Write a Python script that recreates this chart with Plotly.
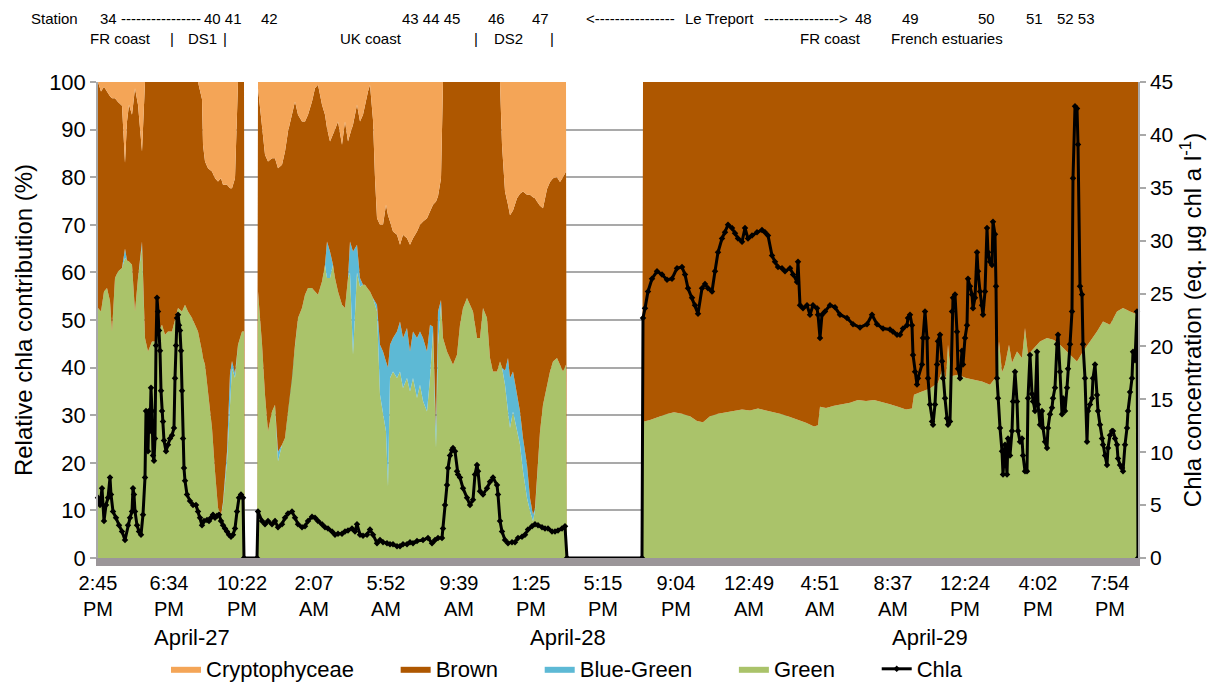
import plotly.graph_objects as go

# ---------------- data (scan = measurement number along the transect) ----------------
area_scan = [
    # segment 1
    0, 3, 6, 9, 12, 14, 17, 20, 24, 27, 29, 31, 34, 37, 40, 44, 47, 50, 54, 57,
    60, 64, 67, 70, 74, 77, 80, 84, 87, 90, 94, 97, 100, 104, 105, 107, 110, 114, 117, 120,
    123, 125, 129, 132, 134, 137, 140, 144, 146, 147, 159,
    # segment 2
    160, 164, 167, 170, 174, 177, 180, 184, 187, 190, 194, 197, 200, 204, 207, 210, 214, 217, 220, 224,
    227, 229, 232, 235, 237, 240, 244, 247, 250, 252, 255, 259, 262, 265, 267, 270, 272, 275, 277, 279,
    282, 285, 288, 290, 292, 295, 299, 302, 305, 309, 312, 315, 319, 322, 325, 329, 332, 335, 338, 340,
    343, 345, 349, 352, 355, 359, 362, 365, 369, 372, 375, 379, 382, 385, 389, 392, 395, 399, 402, 404,
    407, 410, 412, 415, 419, 422, 425, 429, 432, 435, 437, 439, 442, 445, 449, 452, 455, 459, 462, 465,
    468, 469, 544,
    # segment 3
    545, 552, 560, 568, 576, 584, 592, 599, 605, 612, 620, 628, 636, 644, 652, 660, 668, 676, 684, 692,
    700, 708, 716, 720, 722, 728, 736, 744, 752, 760, 768, 776, 784, 792, 800, 808, 814, 816, 824, 832,
    840, 845, 848, 850, 853, 860, 868, 876, 884, 892, 898, 901, 904, 907, 911, 914, 919, 924, 927, 930,
    935, 942, 949, 956, 962, 968, 974, 979, 985, 992, 999, 1005, 1012, 1019, 1025, 1032, 1040,
]

green = [
    52.5, 51.8, 56, 56.7, 54, 47.6, 58.8, 60.2, 60.9, 63, 62.5, 62.3, 61.6, 51.8, 58.8, 65.5, 46.2, 43.4, 45.5, 45.5,
    47.6, 49, 46.9, 47.6, 47.6, 50.4, 52.5, 51.8, 53.2, 51.8, 50.4, 49, 47.6, 43.4, 42, 40.6, 35, 27.3, 18.2, 10.5,
    9.1, 11.2, 20.3, 30.8, 39.9, 37.8, 44.8, 47.6, 47.6, 0, 0,
    56, 45, 34.3, 26.6, 30.8, 32.2, 20.3, 23.8, 25.2, 30.8, 37.8, 44.8, 50.4, 52.5, 55.3, 56.7, 56.7, 56, 55.3, 58.1,
    61.6, 58.8, 58.8, 61.6, 58.8, 56, 53.2, 52.5, 58.8, 60, 42.7, 60, 57, 57.4, 57.4, 56.5, 56, 54.6, 53, 51.8,
    34.3, 30.8, 26.6, 15, 37.8, 39.2, 37.8, 39.2, 35.7, 37.8, 35, 37.8, 33.6, 36.4, 33, 30.8, 37.8, 47.6, 23.1, 44.8,
    53.2, 46.2, 43.4, 42, 40.6, 42.7, 49, 52.5, 54.6, 53.2, 51.8, 46.2, 46.2, 52.5, 50.4, 42, 39.2, 39.2, 41.3, 40,
    36.4, 30.8, 27.3, 30.8, 26.6, 23.8, 18.2, 12.6, 9.8, 7.7, 10, 16.8, 26.6, 32.2, 36.4, 39.2, 41.3, 42, 40.6, 39.2,
    40.6, 0, 0,
    28.6, 29, 29.6, 30.2, 30.6, 30.3, 29.8, 28.8, 28.5, 29.8, 30.3, 30.6, 31, 31.2, 31, 31.4, 31, 30.6, 30.2, 29.6,
    29, 28.4, 27.6, 27.9, 31.8, 31.5, 32, 32.3, 32.6, 33.2, 33, 33.2, 32.8, 32.3, 31.8, 31.2, 31.4, 34.3, 35, 35.6,
    36.8, 40, 37.5, 44.8, 38.2, 38.5, 37.8, 37.5, 37.1, 36.4, 38, 45.5, 39, 40.6, 44.8, 41, 43.4, 42, 48.3, 42.7,
    43.8, 45.5, 46.2, 45.8, 44.8, 43.5, 42.2, 41.3, 43.4, 45.5, 47.6, 49.7, 49, 51.8, 52.5, 51.8, 51.1,
]

blue_green = [
    0, 0, 0, 0, 0, 0, 0, 0, 0, 2, 0, 0, 0, 0, 0, 1, 0, 0, 0, 0,
    0, 0, 0, 0, 0, 0, 0, 0, 0, 0, 0, 0, 0, 0, 0, 0, 0, 0, 0, 0,
    0, 0.5, 2, 8, 1.5, 1, 0, 0, 0, 0, 0,
    0, 0, 0, 0, 0, 0, 2, 0, 0, 0, 0, 0, 0, 0, 0, 0, 0, 0, 0, 0,
    0, 7.7, 5.6, 0, 0, 0, 0, 0, 0, 6.5, 21.7, 5.8, 1.8, 0, 0, 0, 0, 0, 1, 1.4,
    10.5, 12.6, 14.7, 25, 7, 7, 9.8, 10.5, 10.5, 10.5, 8.4, 9.8, 12.6, 11.2, 13.2, 12.6, 11.2, 1, 4, 7,
    1, 0, 0, 0, 0, 0, 0, 0, 0, 0, 0, 0, 0, 0, 0, 0, 0, 0, 0, 0,
    3, 11.2, 10.5, 8.4, 7.7, 7, 7, 7, 2.8, 1.4, 0.5, 0, 0, 0, 0, 0, 0, 0, 0, 0,
    0, 0, 0,
    0, 0, 0, 0, 0, 0, 0, 0, 0, 0, 0, 0, 0, 0, 0, 0, 0, 0, 0, 0,
    0, 0, 0, 0, 0, 0, 0, 0, 0, 0, 0, 0, 0, 0, 0, 0, 0, 0, 0, 0,
    0, 0, 0, 0, 0, 0, 0, 0, 0, 0, 0, 0, 0, 0, 0, 0, 0, 0, 0, 0,
    0, 0, 0, 0, 0, 0, 0, 0, 0, 0, 0, 0, 0, 0, 0, 0, 0,
]

brown = [
    47.5, 46.2, 43, 41.2, 43, 49, 37.8, 35.6, 34.1, 18, 29.2, 32.9, 31.5, 46.9, 36.4, 18.9, 53.8, 56.6, 54.5, 54.5,
    52.4, 51, 53.1, 52.4, 52.4, 49.6, 47.5, 48.2, 46.8, 48.2, 49.6, 51, 52.4, 53, 44.8, 42.7, 46.9, 53.9, 61.6, 68.6,
    70.7, 66.7, 56.1, 38.9, 36.3, 41, 55.2, 52.4, 52.4, 0, 0,
    42.7, 45.3, 50.4, 56.7, 53.2, 51.8, 59.6, 58.8, 60.2, 58.8, 55.3, 51.1, 42.7, 39.2, 36.4, 36.4, 39.2, 42.7, 44.1, 37.1,
    31.5, 23.8, 23.1, 27.3, 31.2, 35.7, 33.6, 39.2, 28.7, 22.5, 26.6, 29.4, 32.9, 35.7, 37.8, 41.5, 43.4, 37.4, 25.8, 18.2,
    25.2, 26.6, 32.9, 32, 25.9, 22.4, 20.3, 16.1, 21.7, 18.9, 22.4, 19.6, 22.4, 22.4, 24.5, 28, 23.8, 25.6, 47.8, 24.2,
    25.6, 53.8, 56.6, 58, 59.4, 57.3, 51, 47.5, 45.4, 46.8, 48.2, 53.8, 53.8, 47.5, 49.6, 58, 60.8, 60.8, 58.7, 46.8,
    37.6, 32.2, 34.2, 33.8, 41.3, 45.7, 51.8, 56.7, 63.7, 66.7, 65.1, 58.1, 47.4, 41.3, 41.1, 39.8, 38.5, 38, 38.4, 40.8,
    40.6, 0, 0,
    71.4, 71, 70.4, 69.8, 69.4, 69.7, 70.2, 71.2, 71.5, 70.2, 69.7, 69.4, 69, 68.8, 69, 68.6, 69, 69.4, 69.8, 70.4,
    71, 71.6, 72.4, 72.1, 68.2, 68.5, 68, 67.7, 67.4, 66.8, 67, 66.8, 67.2, 67.7, 68.2, 68.8, 68.6, 65.7, 65, 64.4,
    63.2, 60, 62.5, 55.2, 61.8, 61.5, 62.2, 62.5, 62.9, 63.6, 62, 54.5, 61, 59.4, 55.2, 59, 56.6, 58, 51.7, 57.3,
    56.2, 54.5, 53.8, 54.2, 55.2, 56.5, 57.8, 58.7, 56.6, 54.5, 52.4, 50.3, 51, 48.2, 47.5, 48.2, 48.9,
]

crypto = [
    0, 2, 1, 2.1, 3, 3.4, 3.4, 4.2, 5, 17, 8.3, 4.8, 6.9, 1.3, 4.8, 14.6, 0, 0, 0, 0,
    0, 0, 0, 0, 0, 0, 0, 0, 0, 0, 0, 0, 0, 3.6, 13.2, 16.7, 18.1, 18.8, 20.2, 20.9,
    20.2, 21.6, 21.6, 22.3, 22.3, 20.2, 0, 0, 0, 0, 0,
    1.3, 9.7, 15.3, 16.7, 16, 16, 18.1, 17.4, 14.6, 10.4, 6.9, 4.1, 6.9, 8.3, 8.3, 6.9, 4.1, 1.3, 0.6, 4.8,
    6.9, 9.7, 12.5, 11.1, 10, 8.3, 13.2, 8.3, 12.5, 11, 9, 4.8, 8.3, 6.9, 4.8, 2, 0.6, 8, 20.2, 28.6,
    30, 30, 25.8, 28, 29.3, 31.4, 32.1, 34.2, 32.1, 32.8, 34.2, 32.8, 31.4, 30, 29.3, 28.6, 27.2, 25.8, 25.1, 24,
    20.2, 0, 0, 0, 0, 0, 0, 0, 0, 0, 0, 0, 0, 0, 0, 0, 0, 0, 0, 13.2,
    23, 25.8, 28, 27, 24.4, 23.5, 23, 23.7, 23.7, 24.2, 24.4, 25.1, 26, 26.5, 22.5, 21, 20.2, 20, 21, 20,
    18.8, 0, 0,
    0, 0, 0, 0, 0, 0, 0, 0, 0, 0, 0, 0, 0, 0, 0, 0, 0, 0, 0, 0,
    0, 0, 0, 0, 0, 0, 0, 0, 0, 0, 0, 0, 0, 0, 0, 0, 0, 0, 0, 0,
    0, 0, 0, 0, 0, 0, 0, 0, 0, 0, 0, 0, 0, 0, 0, 0, 0, 0, 0, 0,
    0, 0, 0, 0, 0, 0, 0, 0, 0, 0, 0, 0, 0, 0, 0, 0, 0,
]

chla_scan = [
    0, 2, 4, 6, 8, 10, 12, 13, 15, 18,
    21, 24, 27, 30, 32, 34, 35, 36, 37, 39,
    41, 43, 45, 47, 48, 50, 51, 52, 53, 54,
    55, 56, 57, 58, 59, 60, 61, 62, 63, 64,
    65, 66, 68, 70, 72, 74, 76, 77, 78, 79,
    80, 81, 82, 83, 84, 85, 86, 87, 89, 92,
    95, 98, 100, 102, 104, 106, 109, 111, 113, 115,
    117, 119, 121, 123, 125, 127, 129, 131, 133, 135,
    137, 139, 141, 143, 145, 146, 159,
    160, 164, 167, 170, 174, 177, 180, 184, 187, 190,
    194, 197, 200, 204, 207, 210, 214, 217, 220, 224,
    227, 230, 234, 237, 240, 244, 247, 250, 254, 257,
    259, 262, 265, 269, 272, 275, 279, 282, 285, 289,
    292, 295, 299, 302, 305, 309, 312, 315, 319, 325,
    330, 334, 337, 340, 344, 345, 347, 349, 350, 352,
    354, 355, 357, 359, 360, 362, 365, 369, 372, 375,
    377, 379, 380, 382, 385, 389, 392, 395, 399, 400,
    402, 404, 407, 410, 414, 417, 420, 424, 427, 430,
    434, 437, 440, 444, 447, 450, 454, 457, 460, 464,
    467, 469, 544,
    545, 547, 550, 554, 559, 564, 569, 574, 579, 584,
    587, 590, 594, 597, 600, 604, 607, 610, 614, 617,
    620, 624, 627, 630, 634, 637, 640, 644, 647, 650,
    654, 659, 664, 667, 670, 674, 677, 680, 684, 687,
    692, 695, 699, 700, 702, 705, 709, 712, 715, 719,
    720, 722, 724, 727, 732, 737, 742, 749, 755, 762,
    769, 774, 779, 785, 792, 795, 799, 802, 805, 809,
    810, 812, 814, 815, 817, 819, 820, 824, 825, 827,
    829, 830, 832, 834, 835, 837, 839, 840, 842, 844,
    845, 847, 849, 850, 852, 854, 855, 857, 859, 860,
    862, 864, 865, 867, 869, 870, 872, 874, 875, 877,
    879, 880, 882, 884, 885, 887, 889, 890, 892, 894,
    895, 897, 898, 899, 900, 902, 904, 905, 907, 909,
    910, 912, 914, 915, 917, 919, 920, 922, 924, 925,
    927, 929, 930, 932, 934, 935, 937, 939, 940, 942,
    944, 945, 947, 949, 950, 952, 954, 955, 957, 959,
    960, 962, 964, 965, 967, 969, 970, 972, 974, 975,
    977, 979, 980, 982, 984, 985, 987, 989, 990, 992,
    994, 995, 997, 999, 1000, 1002, 1004, 1005, 1007, 1009,
    1010, 1012, 1014, 1015, 1017, 1019, 1020, 1022, 1024, 1025,
    1027, 1029, 1030, 1032, 1034, 1035, 1037, 1039, 1040,
]

chla = [
    5.7, 5.0, 6.6, 3.5, 5.0, 5.7, 7.6, 6.0, 4.4, 3.8,
    3.1, 2.5, 1.7, 3.1, 3.8, 4.4, 6.6, 6.0, 4.4, 3.1,
    2.5, 2.2, 4.1, 7.6, 13.9, 10.1, 13.9, 12.0, 16.1, 13.9,
    9.7, 9.2, 11.3, 20.1, 24.6, 23.3, 21.5, 19.6, 15.8, 13.9,
    12.9, 11.1, 10.1, 10.7, 11.3, 11.6, 12.3, 17.0, 20.1, 22.7,
    23.0, 22.0, 21.5, 19.6, 15.8, 11.3, 8.5, 7.3, 6.0, 5.4,
    5.0, 5.0, 4.4, 3.8, 3.1, 3.5, 3.6, 3.5, 3.8, 4.1,
    3.8, 4.0, 4.1, 3.5, 3.1, 2.8, 2.5, 2.2, 2.0, 2.2,
    2.8, 4.4, 5.7, 6.0, 5.7, 0, 0,
    4.4, 3.5, 3.2, 3.5, 3.2, 3.5, 2.9, 3.2, 3.8, 4.2,
    4.4, 3.8, 3.2, 2.9, 3.0, 3.5, 3.9, 3.8, 3.5, 3.2,
    2.9, 2.8, 2.5, 2.2, 2.3, 2.3, 2.5, 2.6, 2.8, 2.5,
    3.2, 2.2, 2.1, 2.2, 2.7, 2.2, 1.4, 1.7, 1.5, 1.4,
    1.3, 1.3, 1.1, 1.1, 1.3, 1.3, 1.5, 1.4, 1.6, 1.7,
    1.9, 1.4, 1.7, 1.9, 1.9, 2.8, 5.0, 6.9, 8.5, 9.7,
    10.2, 10.4, 10.1, 8.2, 7.9, 7.6, 6.6, 5.7, 5.0, 5.5,
    7.9, 8.8, 8.2, 6.3, 6.0, 6.6, 7.2, 7.6, 6.9, 6.0,
    3.5, 2.5, 1.7, 1.4, 1.5, 1.5, 1.9, 2.0, 2.2, 2.7,
    3.0, 3.2, 3.1, 2.9, 2.8, 2.8, 2.5, 2.5, 2.6, 2.8,
    3.0, 0, 0,
    22.7, 23.6, 25.2, 26.4, 27.1, 26.8, 26.3, 26.4, 27.4, 27.5,
    26.8, 25.5, 24.6, 23.9, 23.1, 25.5, 25.9, 25.5, 25.2, 27.1,
    28.9, 30.2, 30.8, 31.5, 31.2, 30.7, 30.2, 29.9, 31.2, 30.2,
    30.5, 30.8, 31.0, 30.8, 30.5, 28.6, 28.0, 27.5, 27.4, 27.1,
    27.4, 26.8, 26.1, 28.0, 23.9, 23.6, 23.9, 23.0, 23.9, 23.6,
    23.0, 20.8, 23.0, 23.3, 23.9, 23.7, 23.0, 22.7, 22.1, 21.8,
    22.1, 23.0, 22.1, 21.7, 21.6, 21.4, 21.1, 21.1, 21.7, 22.0,
    22.7, 23.0, 22.0, 19.2, 17.6, 16.4, 17.0, 18.3, 20.8, 23.3,
    20.8, 17.0, 14.5, 12.9, 12.6, 14.5, 18.3, 20.5, 21.1, 18.6,
    17.0, 15.1, 13.2, 12.6, 12.9, 23.3, 24.6, 24.9, 21.4, 17.9,
    17.0, 19.6, 18.3, 20.8, 22.0, 26.4, 25.7, 24.9, 23.6, 24.6,
    28.9, 27.1, 25.2, 23.9, 23.0, 25.2, 31.2, 28.9, 28.0, 27.7,
    31.8, 30.6, 25.7, 17.0, 15.1, 12.3, 10.1, 7.9, 10.7, 7.9,
    11.3, 9.7, 12.0, 14.8, 17.6, 14.8, 12.0, 11.0, 11.3, 9.7,
    8.2, 8.2, 15.1, 19.2, 15.5, 14.8, 13.9, 19.5, 14.5, 12.6,
    13.9, 12.3, 11.0, 10.4, 12.3, 13.6, 14.2, 15.1, 16.1, 20.2,
    21.1, 17.6, 13.6, 15.1, 13.9, 16.1, 17.9, 20.2, 23.3, 35.9,
    42.7, 42.5, 39.1, 25.7, 24.9, 20.2, 17.0, 11.0, 13.9, 14.5,
    15.1, 17.0, 18.3, 15.4, 13.9, 12.6, 11.3, 10.7, 9.7, 8.8,
    10.4, 11.6, 12.0, 12.0, 11.3, 10.7, 9.4, 8.8, 8.5, 8.2,
    10.7, 12.3, 13.9, 15.7, 17.0, 19.5, 18.7, 23.3, 0,
]

tick_scan = [0, 71, 144, 216, 288, 361, 433, 505, 578, 651, 722, 795, 867, 940, 1012]
tick_labels = ["2:45<br>PM", "6:34<br>PM", "10:22<br>PM", "2:07<br>AM", "5:52<br>AM",
               "9:39<br>AM", "1:25<br>PM", "5:15<br>PM", "9:04<br>PM", "12:49<br>AM",
               "4:51<br>AM", "8:37<br>AM", "12:24<br>PM", "4:02<br>PM", "7:54<br>PM"]
date_labels = ["April-27", "April-28", "April-29"]
date_scan = [94, 470, 832]

station_line1 = [("Station", 29), ("34", 98), ("----------------", 119), ("40 41", 202),
                 ("42", 259), ("43 44 45", 400), ("46", 486), ("47", 530),
                 ("<----------------", 584), ("Le Treport", 683), ("--------------->", 762),
                 ("48", 853), ("49", 900), ("50", 976), ("51", 1024), ("52 53", 1055)]
station_line2 = [("FR coast", 88), ("|", 168), ("DS1", 186), ("|", 221), ("UK coast", 338),
                 ("|", 472), ("DS2", 492), ("|", 548), ("FR coast", 798), ("French estuaries", 889)]

# ---------------- styling ----------------
W, H = 1220, 686
ML, MR, MT, MB = 98, 82, 82, 128
PW, PH = W - ML - MR, H - MT - MB
FONT = "Liberation Sans, Arial, Helvetica, sans-serif"
GRID = "#A9A9A9"
COL_CRYPTO = "#F4A557"
COL_BROWN = "#AE5700"
COL_BLUE = "#5DB9D5"
COL_GREEN = "#AAC36A"
NB = "\u00a0" * 6


def px_x(px):
    return (px - ML) / PW


def px_y(py):
    return (H - MB - py) / PH


fig = go.Figure()
stack = dict(x=area_scan, mode="lines", line=dict(width=0), stackgroup="pct",
             yaxis="y", hoverinfo="skip")
fig.add_trace(go.Scatter(y=green, name="Green" + NB, fillcolor=COL_GREEN, legendrank=4, **stack))
fig.add_trace(go.Scatter(y=blue_green, name="Blue-Green" + NB, fillcolor=COL_BLUE, legendrank=3, **stack))
fig.add_trace(go.Scatter(y=brown, name="Brown" + NB, fillcolor=COL_BROWN, legendrank=2, **stack))
fig.add_trace(go.Scatter(y=crypto, name="Cryptophyceae" + NB, fillcolor=COL_CRYPTO, legendrank=1, **stack))
fig.add_trace(go.Scatter(x=chla_scan, y=chla, name="Chla", yaxis="y2", mode="lines+markers",
                         line=dict(color="black", width=3),
                         marker=dict(symbol="diamond", size=5, color="black"),
                         legendrank=5, cliponaxis=False))

annotations = []
for txt, px in station_line1:
    annotations.append(dict(text=txt, x=px_x(px), y=px_y(18), xref="paper", yref="paper",
                            xanchor="left", yanchor="middle", showarrow=False,
                            font=dict(family=FONT, size=15, color="black")))
for txt, px in station_line2:
    annotations.append(dict(text=txt, x=px_x(px), y=px_y(38), xref="paper", yref="paper",
                            xanchor="left", yanchor="middle", showarrow=False,
                            font=dict(family=FONT, size=15, color="black")))
for txt, s in zip(date_labels, date_scan):
    annotations.append(dict(text=txt, x=s, y=px_y(637), xref="x", yref="paper",
                            xanchor="center", yanchor="middle", showarrow=False,
                            font=dict(family=FONT, size=22, color="black")))

fig.update_layout(
    width=W, height=H,
    margin=dict(l=ML, r=MR, t=MT, b=MB, pad=0, autoexpand=False),
    paper_bgcolor="white", plot_bgcolor="white",
    font=dict(family=FONT, size=21, color="black"),
    showlegend=True,
    legend=dict(orientation="h", x=px_x(567), xanchor="center", y=px_y(669), yanchor="middle",
                font=dict(family=FONT, size=22, color="black"), bgcolor="rgba(0,0,0,0)",
                traceorder="normal"),
    xaxis=dict(range=[0, 1040], tickmode="array", tickvals=tick_scan, ticktext=tick_labels,
               showgrid=False, zeroline=False, showline=True, linecolor="#9B9699", linewidth=8,
               ticks="", automargin=False, tickfont=dict(family=FONT, size=20, color="black")),
    yaxis=dict(range=[0, 100], dtick=10, showgrid=True, gridcolor=GRID, gridwidth=1.5,
               zeroline=False, showline=True, linecolor=GRID, linewidth=1.5,
               ticks="outside", ticklen=6, tickcolor=GRID, tickwidth=1.5, automargin=False,
               tickfont=dict(family=FONT, size=22, color="black"),
               title=dict(text="Relative chla contribution (%)", standoff=10,
                          font=dict(family=FONT, size=24, color="black"))),
    yaxis2=dict(range=[0, 45], dtick=5, overlaying="y", side="right", showgrid=False,
                zeroline=False, showline=True, linecolor=GRID, linewidth=1.5,
                ticks="outside", ticklen=6, tickcolor=GRID, tickwidth=1.5, automargin=False,
                tickfont=dict(family=FONT, size=21, color="black"),
                title=dict(text="Chla concentration (eq. µg chl a l<sup>-1</sup>)", standoff=12,
                           font=dict(family=FONT, size=24, color="black"))),
    annotations=annotations,
)

fig.write_html("out.html")
